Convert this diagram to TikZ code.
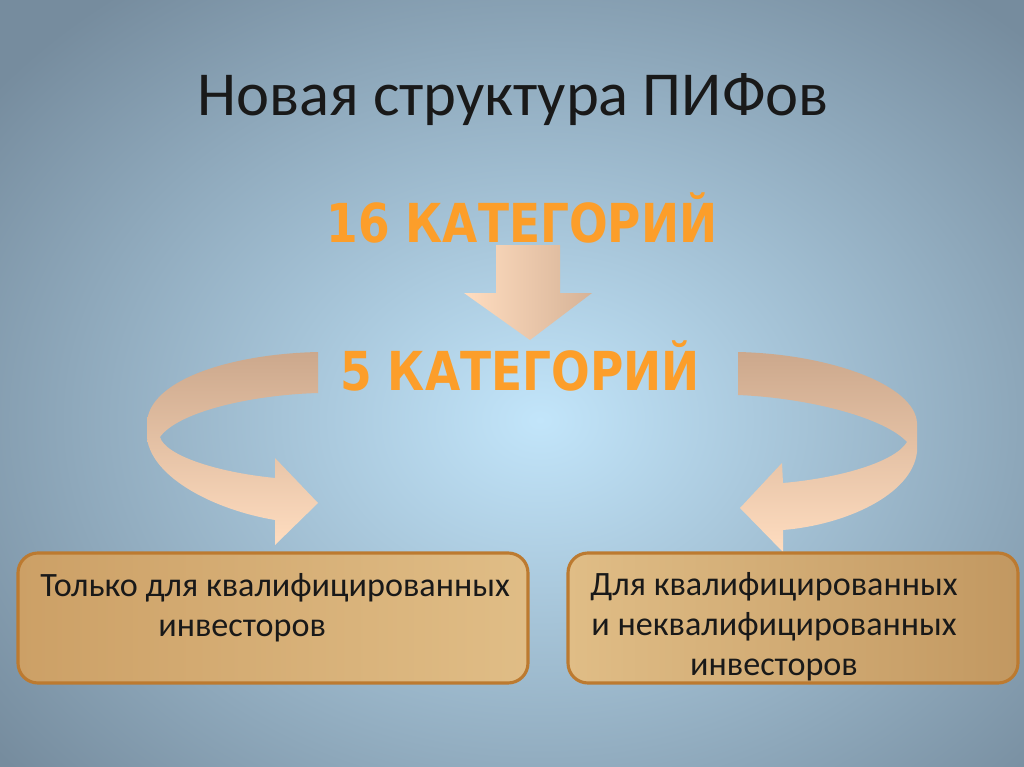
\documentclass[tikz,border=0pt]{standalone}
\usepackage{graphicx}
\usepackage{fontspec}
\setmainfont{Carlito}
\newfontfamily\catfont{DejaVu Sans}

\definecolor{bgcenter}{RGB}{194,229,250}
\definecolor{bgedge}{RGB}{118,140,158}
\definecolor{catorange}{RGB}{252,158,42}
\definecolor{boxedge}{RGB}{188,122,48}
\definecolor{boxlight}{RGB}{224,189,134}
\definecolor{boxdark}{RGB}{204,160,102}
\definecolor{peach}{RGB}{255,221,192}
\definecolor{tan}{RGB}{204,168,140}

\newcommand{\tallcat}[1]{\scalebox{1}[1.18]{#1}}

\tikzset{
  catlabel/.style={text=catorange, font=\catfont\bfseries\fontsize{32}{38}\selectfont, inner sep=0pt},
  boxtext/.style={font=\fontsize{24}{28.1}\selectfont, inner sep=0pt, text=black!90},
  infobox/.style={draw=boxedge, line width=2.2pt, rounded corners=14pt},
  bentarrow/.style={top color=tan, middle color=peach!90!tan, bottom color=peach}
}

\begin{document}
\begin{tikzpicture}[x=0.703125pt, y=-0.703125pt]
  \useasboundingbox (0,0) rectangle (1024,767);
  \clip (0,0) rectangle (1024,767);
  % background
  \shade [inner color=bgcenter, outer color=bgedge] (-150,-120) rectangle (1230,960);

  % title and categories
  \node (title) [font=\fontsize{44}{52}\selectfont, text=black!90] at (513,100) {Новая структура ПИФов};
  \node (cat16) [catlabel] at (522,218) {\tallcat{16 КАТЕГОРИЙ}};
  \node (cat5) [catlabel] at (520,366) {\tallcat{5 КАТЕГОРИЙ}};

  % down arrow
  \path [left color=peach, right color=tan!80!peach]
    (496,245) -- (560,245) -- (560,293) -- (592,293) -- (530,340)
    -- (464,293) -- (496,293) -- cycle;

  % left bent arrow
  \path [bentarrow]
    (318,352) .. controls (230,354) and (150,380) .. (147,422)
    -- (147,438) .. controls (152,478) and (215,510) .. (275,520)
    -- (275,545) -- (318,503) -- (275,458) -- (275,478)
    .. controls (215,472) and (165,455) .. (160,437)
    .. controls (178,412) and (250,395) .. (318,393) -- cycle;

  % right bent arrow
  \path [bentarrow]
    (738,352) .. controls (830,354) and (915,385) .. (917,423)
    -- (917,452) .. controls (912,495) and (845,525) .. (783,530)
    -- (783,552) -- (740,508) -- (782,463) -- (783,483)
    .. controls (840,478) and (895,462) .. (907,442)
    .. controls (885,418) and (810,398) .. (738,395) -- cycle;

  % boxes
  \draw [infobox, left color=boxdark, right color=boxlight] (18,553) rectangle (528,683);
  \draw [infobox, left color=boxlight, right color=boxdark!95!black] (568,553) rectangle (1018,683);
  \node (lefttext) [boxtext, align=left, anchor=west] at (40,608)
    {Только для квалифицированных\\\hspace*{83pt}инвесторов};
  \node (righttext) [boxtext, align=center] at (774,627)
    {Для квалифицированных\\и неквалифицированных\\инвесторов};
\end{tikzpicture}
\end{document}
